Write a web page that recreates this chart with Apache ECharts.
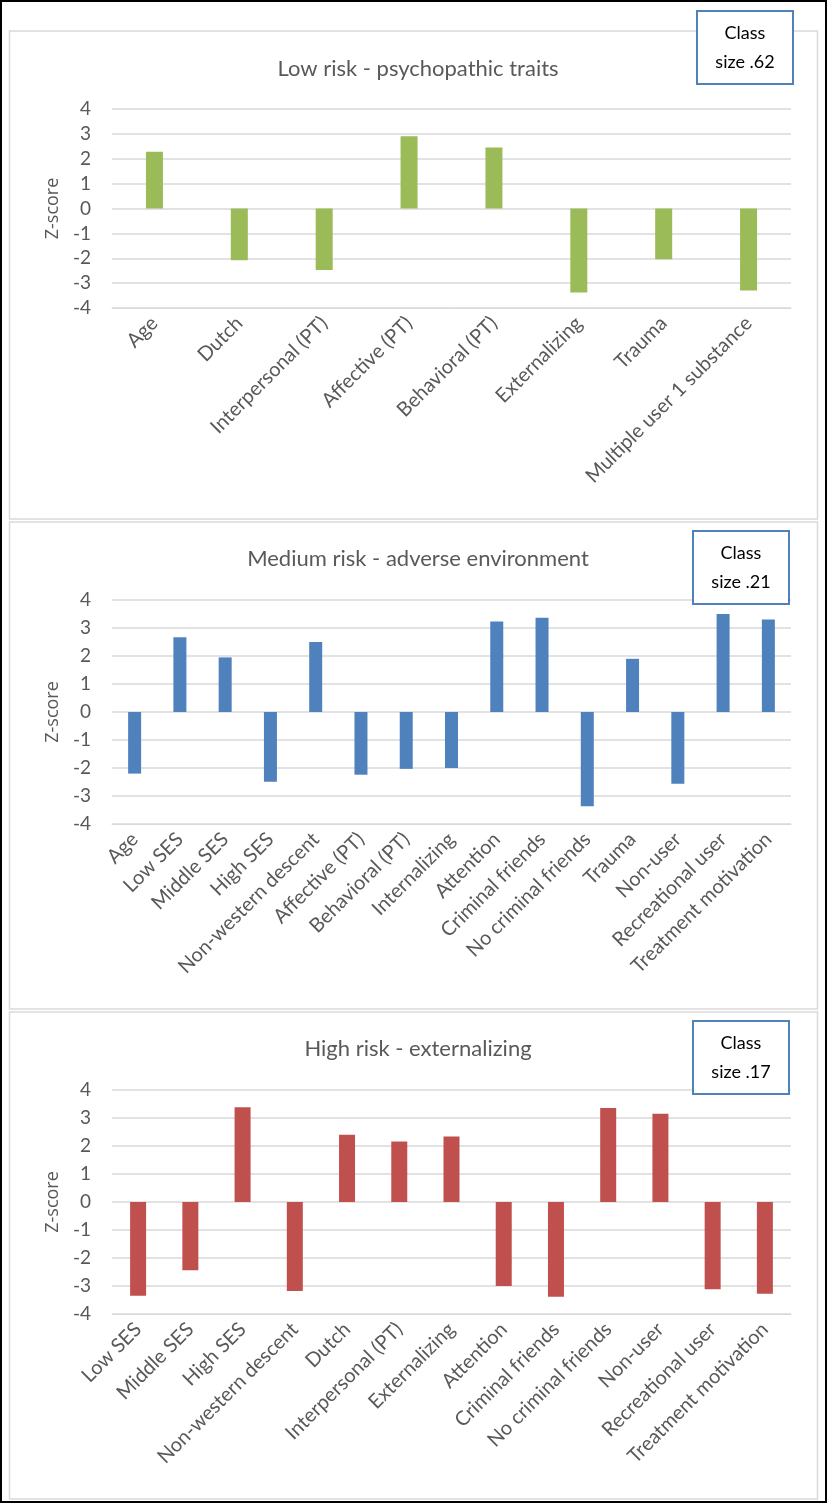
<!DOCTYPE html>
<html>
<head>
<meta charset="utf-8">
<script src="https://cdn.jsdelivr.net/npm/echarts@6/dist/echarts.min.js"></script>
<style>
  html, body { margin: 0; padding: 0; background: #fff; }
  #main { width: 827px; height: 1503px; }
</style>
</head>
<body>
<div id="main"></div>
<script>
// three latent classes, z-scores per indicator

var lowCats = ['Age', 'Dutch', 'Interpersonal (PT)', 'Affective (PT)', 'Behavioral (PT)',
    'Externalizing', 'Trauma', 'Multiple user 1 substance'];
var lowVals = [2.28, -2.08, -2.47, 2.9, 2.45, -3.38, -2.04, -3.3];

var medCats = ['Age', 'Low SES', 'Middle SES', 'High SES', 'Non-western descent', 'Affective (PT)',
    'Behavioral (PT)', 'Internalizing', 'Attention', 'Criminal friends', 'No criminal friends',
    'Trauma', 'Non-user', 'Recreational user', 'Treatment motivation'];
var medVals = [-2.2, 2.67, 1.95, -2.49, 2.5, -2.24, -2.03, -2.0, 3.23, 3.37, -3.37, 1.9, -2.56, 3.5, 3.3];

var highCats = ['Low SES', 'Middle SES', 'High SES', 'Non-western descent', 'Dutch',
    'Interpersonal (PT)', 'Externalizing', 'Attention', 'Criminal friends', 'No criminal friends',
    'Non-user', 'Recreational user', 'Treatment motivation'];
var highVals = [-3.35, -2.44, 3.38, -3.18, 2.4, 2.16, 2.34, -3.0, -3.38, 3.36, 3.15, -3.12, -3.28];

var panelTitles = ['Low risk - psychopathic traits', 'Medium risk - adverse environment', 'High risk - externalizing'];
var classSizes = ['Class\nsize .62', 'Class\nsize .21', 'Class\nsize .17'];

var FONT = 'Lato';
var TXT = '#595959';
var GRID = '#D9D9D9';

var myChart = echarts.init(document.getElementById('main'));

// panel layout
var panels = [
    { cats: lowCats, vals: lowVals, color: '#9BBB59', top: 109, height: 199, barW: 17, titleY: 53, box: [697, 11], border: [31, 488] },
    { cats: medCats, vals: medVals, color: '#4F81BD', top: 600, height: 224, barW: 13, titleY: 543, box: [693, 531], border: [522, 487] },
    { cats: highCats, vals: highVals, color: '#C0504D', top: 1090, height: 224, barW: 16, titleY: 1033, box: [693, 1021], border: [1012, 487] }
];

var grids = [], xAxes = [], yAxes = [], series = [], titles = [], graphics = [];

// outer frame
graphics.push({
    type: 'rect', shape: { x: 1, y: 1, width: 825, height: 1501 },
    style: { fill: 'none', stroke: '#000', lineWidth: 2 }, z: 1
});

panels.forEach(function (p, i) {
    grids.push({ left: 112, right: 36, top: p.top, height: p.height });
    xAxes.push({
        type: 'category', gridIndex: i, data: p.cats,
        axisLine: { show: true, onZero: false, lineStyle: { color: GRID } },
        axisTick: { show: false },
        axisLabel: { interval: 0, rotate: 45, margin: 12, color: TXT, fontFamily: FONT, fontSize: 20 }
    });
    yAxes.push({
        type: 'value', gridIndex: i, min: -4, max: 4, interval: 1,
        name: 'Z-score', nameLocation: 'middle', nameGap: 50, nameRotate: 90,
        nameTextStyle: { color: TXT, fontFamily: 'Open Sans', fontSize: 18 },
        axisLabel: { color: TXT, fontFamily: FONT, fontSize: 19, margin: 21 },
        splitLine: { lineStyle: { color: GRID, width: 1.5 } },
        axisLine: { show: false }, axisTick: { show: false }
    });
    series.push({
        type: 'bar', xAxisIndex: i, yAxisIndex: i, data: p.vals,
        barWidth: p.barW, itemStyle: { color: p.color }
    });
    titles.push({
        text: panelTitles[i], left: 413, top: p.titleY, textAlign: 'center',
        textStyle: { color: TXT, fontFamily: FONT, fontSize: 22, fontWeight: 'normal' }
    });
    // light panel border
    graphics.push({
        type: 'rect', shape: { x: 9.5, y: p.border[0], width: 808, height: p.border[1] },
        style: { fill: 'none', stroke: GRID, lineWidth: 1.5 }, z: 1
    });
    // class size box
    graphics.push({
        type: 'rect', shape: { x: p.box[0], y: p.box[1], width: 96, height: 73 },
        style: { fill: '#fff', stroke: '#4F81BD', lineWidth: 2 }, z: 5
    });
    graphics.push({
        type: 'text', x: p.box[0] + 48, y: p.box[1] + 37, z: 6,
        style: {
            text: classSizes[i], align: 'center', verticalAlign: 'middle',
            fill: '#000', font: '18px ' + FONT, lineHeight: 29
        }
    });
});

myChart.setOption({
    animation: false,
    title: titles,
    grid: grids,
    xAxis: xAxes,
    yAxis: yAxes,
    series: series,
    graphic: graphics
});
</script>
</body>
</html>
